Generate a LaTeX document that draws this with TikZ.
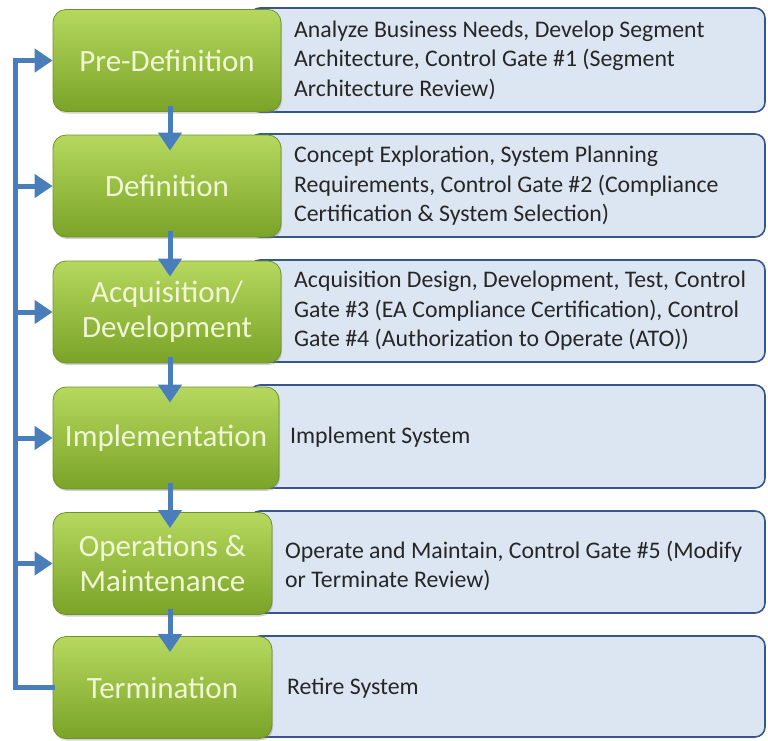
\documentclass[tikz,border=0pt]{standalone}
\usepackage{fontspec}
\setmainfont{Carlito}
\usepackage{tikz}
\usetikzlibrary{arrows.meta,shadows}
\definecolor{phaseTop}{RGB}{182,216,94}
\definecolor{phaseBot}{RGB}{122,163,40}
\definecolor{phaseEdge}{RGB}{112,146,44}
\definecolor{phaseText}{RGB}{240,246,214}
\definecolor{noteFill}{RGB}{220,230,242}
\definecolor{noteEdge}{RGB}{54,86,140}
\definecolor{flowBlue}{RGB}{74,126,187}
\definecolor{noteText}{RGB}{38,38,38}

\begin{document}
\begin{tikzpicture}[x=1pt,y=-1pt,
  phase/.style={draw=phaseEdge, line width=0.8pt, rounded corners=13pt, top color=phaseTop, bottom color=phaseBot,
    text=phaseText, align=center, font=\fontsize{31}{35}\selectfont, minimum height=102pt, inner sep=0pt,
    drop shadow={shadow xshift=1pt, shadow yshift=-2pt, opacity=0.35}},
  note/.style={draw=noteEdge, line width=1.6pt, rounded corners=10pt, fill=noteFill, minimum width=515pt, inner sep=0pt},
  notetext/.style={anchor=west, align=left, text=noteText, font=\fontsize{23.8}{29.5}\selectfont, inner sep=0pt},
  flow/.style={draw=flowBlue, line width=5pt, -{Triangle[length=18pt,width=23pt]}},
  trunk/.style={draw=flowBlue, line width=5pt, line cap=rect}]
\useasboundingbox (0,0) rectangle (768,740);

% Note boxes
\node[note, minimum height=104pt] (b1) at (507.5,60) {};
\node[note, minimum height=103pt] (b2) at (507.5,185.5) {};
\node[note, minimum height=102pt] (b3) at (507.5,311) {};
\node[note, minimum height=103pt] (b4) at (507.5,436.5) {};
\node[note, minimum height=102pt] (b5) at (507.5,562) {};
\node[note, minimum height=101pt] (b6) at (507.5,686.5) {};

% Phase boxes
\node[phase, minimum width=228pt] (g1) at (167,60.5) {Pre-Definition};
\node[phase, minimum width=228pt] (g2) at (167,186) {Definition};
\node[phase, minimum width=228pt] (g3) at (167,312) {Acquisition/\\Development};
\node[phase, minimum width=226pt] (g4) at (166,438) {Implementation};
\node[phase, minimum width=219pt] (g5) at (162.5,563.5) {Operations \&\\Maintenance};
\node[phase, minimum width=219pt] (g6) at (162.5,687.5) {Termination};

% Text Node
\node[notetext] (d1) at (294,60) {Analyze Business Needs, Develop Segment\\Architecture, Control Gate \#1 (Segment\\Architecture Review)};
% Text Node
\node[notetext] (d2) at (294,186) {Concept Exploration, System Planning\\Requirements, Control Gate \#2 (Compliance\\Certification \& System Selection)};
% Text Node
\node[notetext] (d3) at (294,311) {Acquisition Design, Development, Test, Control\\Gate \#3 (EA Compliance Certification), Control\\Gate \#4 (Authorization to Operate (ATO))};
% Text Node
\node[notetext] (d4) at (290,437) {Implement System};
% Text Node
\node[notetext] (d5) at (285,566) {Operate and Maintain, Control Gate \#5 (Modify\\or Terminate Review)};
% Text Node
\node[notetext] (d6) at (287,688) {Retire System};

% Down arrows
\coordinate (col) at (170,0);
\foreach \a/\b in {g1/g2,g2/g3,g3/g4,g4/g5,g5/g6}
  \draw[flow] ([yshift=6pt]\a.south -| col) -- ([yshift=-16pt]\b.north -| col);

% Feedback loop
\coordinate (lb) at (15,0);
\draw[trunk] (g6.west) -- (g6.west -| lb) -- (g1.west -| lb);
\foreach \n in {1,...,5}
  \draw[flow] (g\n.west -| lb) -- (g\n.west);

\end{tikzpicture}
\end{document}
